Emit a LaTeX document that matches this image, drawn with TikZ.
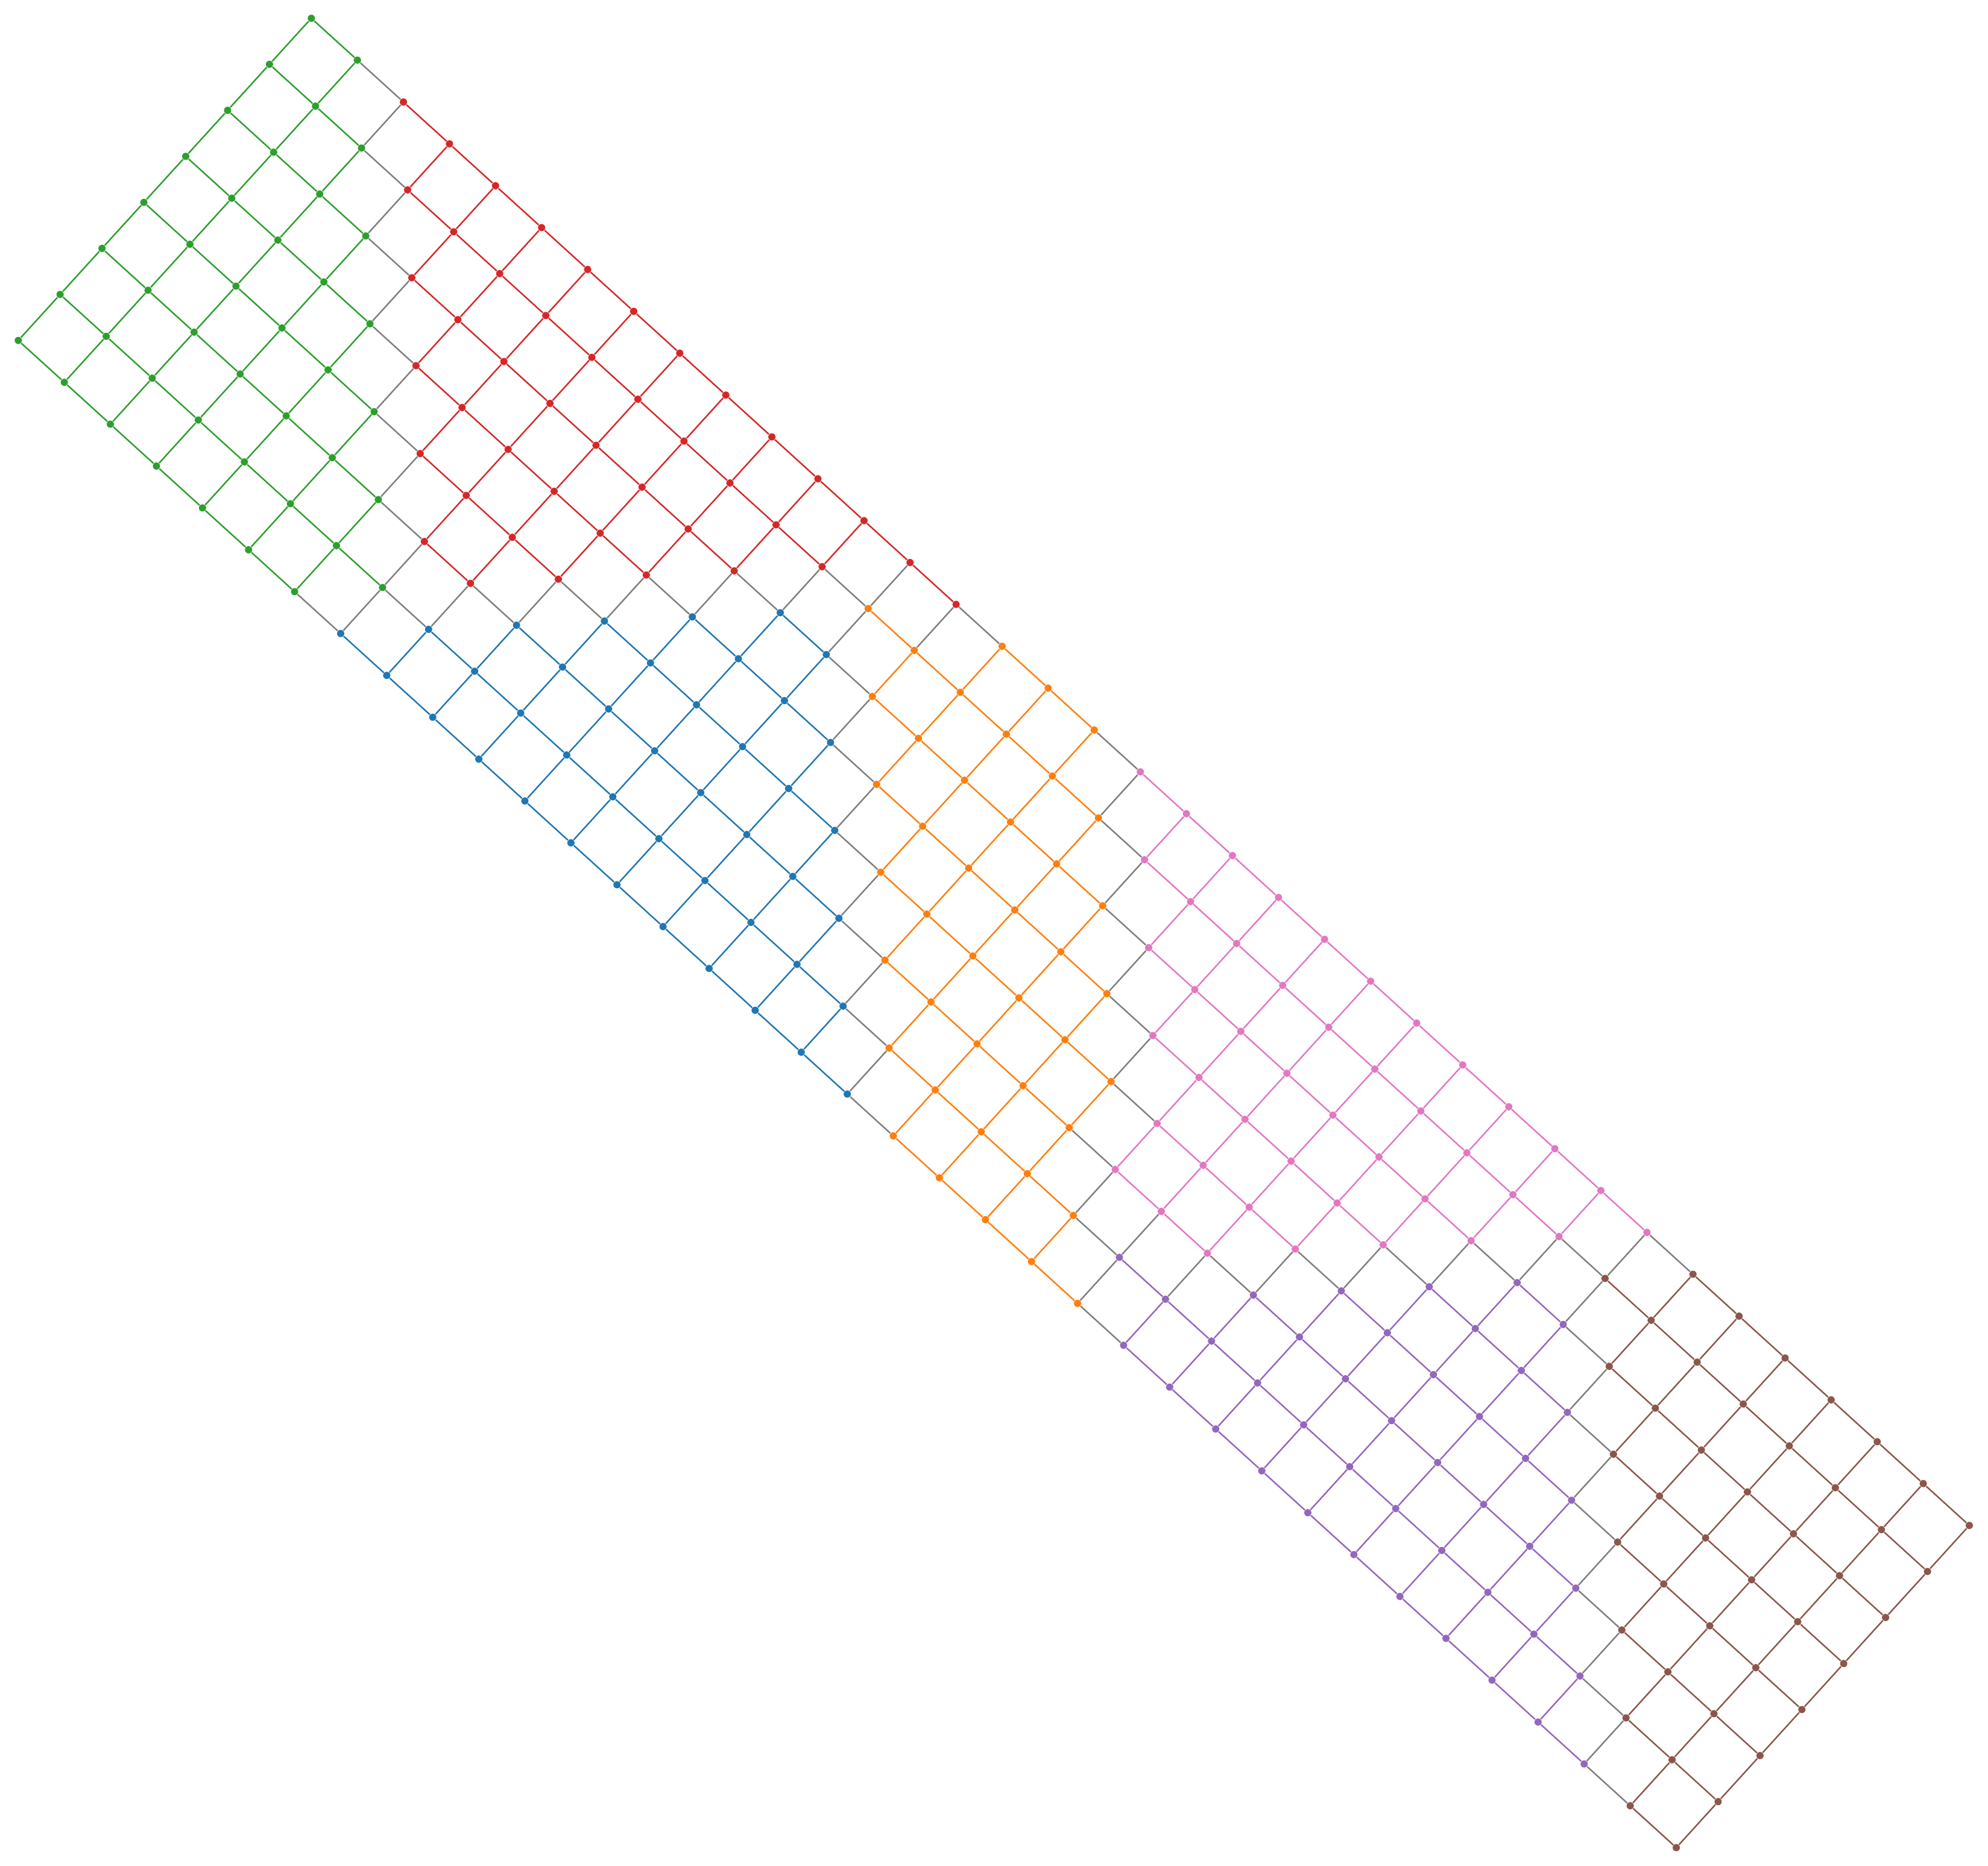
\documentclass[tikz,border=0pt]{standalone}
\usepackage{tikz}
\usetikzlibrary{backgrounds}
\definecolor{grgreen}{HTML}{2CA02C}
\definecolor{grred}{HTML}{D62728}
\definecolor{grblue}{HTML}{1F77B4}
\definecolor{grorange}{HTML}{FF7F0E}
\definecolor{grpink}{HTML}{E377C2}
\definecolor{grpurple}{HTML}{9467BD}
\definecolor{grbrown}{HTML}{8C564B}
\definecolor{grgrey}{HTML}{7F7F7F}
\colorlet{part1}{grgreen}
\colorlet{part2}{grred}
\colorlet{part3}{grblue}
\colorlet{part4}{grorange}
\colorlet{part5}{grpink}
\colorlet{part6}{grpurple}
\colorlet{part7}{grbrown}

% part of grid point (#1,#2), stored in #3
\newcommand{\partof}[3]{%
  \pgfmathtruncatemacro\gridu{#1-#2}%
  \pgfmathtruncatemacro\gridv{#1+#2}%
  \pgfmathtruncatemacro#3{\gridv<14 ? (\gridu<2 ? 1 : 2) :
    (((#1==14) && (#2==0)) ? 2 : (\gridu<12 ? 3 :
    (((\gridu<17) || ((\gridu==17) && (#2<5))) ? 4 :
    (((\gridv<30) && (#2<6)) ? 5 : (\gridu<28 ? 6 : 7)))))}%
}

\begin{document}
\begin{tikzpicture}[
      vx/.style={circle, draw=none, inner sep=0pt, minimum size=1.2mm},
      ed/.style={line width=0.7pt},
    ]
    \useasboundingbox (0,0) rectangle (32.97,-30.95);

    % ---------------- vertices
    \foreach \i in {0,...,36} {
      \foreach \j in {0,...,7} {
        \partof{\i}{\j}{\pa}
        \node[vx, fill=part\pa] (n-\i-\j)
          at ({(516.3+76.38*\i-69.43*\j)/100}, {-(30.3+69.44*\i+76.34*\j)/100}) {};
      }
    }

    % ---------------- edges, grey between parts
    \begin{scope}[on background layer]
      \foreach \i in {0,...,36} {
        \foreach \j in {0,...,7} {
          \partof{\i}{\j}{\pa}
          \ifnum\i<36
            \pgfmathtruncatemacro\inext{\i+1}
            \partof{\inext}{\j}{\pb}
            \ifnum\pa=\pb \def\ec{part\pa}\else \def\ec{grgrey}\fi
            \draw[ed, draw=\ec] (n-\i-\j) -- (n-\inext-\j);
          \fi
          \ifnum\j<7
            \pgfmathtruncatemacro\jnext{\j+1}
            \partof{\i}{\jnext}{\pb}
            \ifnum\pa=\pb \def\ec{part\pa}\else \def\ec{grgrey}\fi
            \draw[ed, draw=\ec] (n-\i-\j) -- (n-\i-\jnext);
          \fi
        }
      }
    \end{scope}
  \end{tikzpicture}
\end{document}
